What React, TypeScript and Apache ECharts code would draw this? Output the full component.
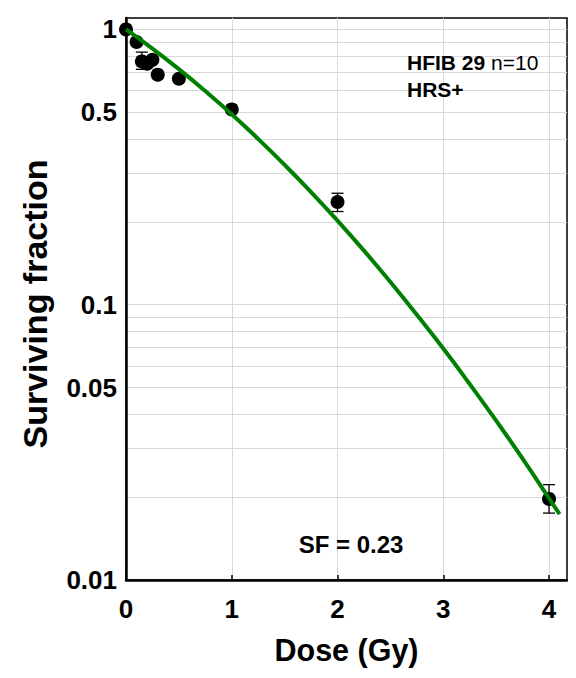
import React, { useEffect, useRef } from "react";
import * as echarts from "echarts";

// Measured points (dose in Gy, surviving fraction)
const doses = [0, 0.1, 0.15, 0.2, 0.25, 0.3, 0.5, 1, 2, 4];
const survival = [1.0, 0.9, 0.765, 0.75, 0.775, 0.685, 0.662, 0.512, 0.236, 0.0197];

// Error bars
const errDoses = [0.15, 2, 4];
const errLow = [0.716, 0.218, 0.0175];
const errHigh = [0.827, 0.254, 0.0222];

// Fitted curve
const fitDoses = [0, 0.25, 0.5, 0.75, 1, 1.25, 1.5, 1.75, 2, 2.25, 2.5, 2.75, 3, 3.25, 3.5, 3.75, 4, 4.1];
const fitSF = [1.0, 0.852, 0.717, 0.597, 0.492, 0.4, 0.322, 0.2565, 0.2019, 0.1572, 0.1209, 0.092, 0.0693, 0.0515, 0.0379, 0.0276, 0.0198, 0.01734];

// Axes
const xTicks = [0, 1, 2, 3, 4];
const yTickLabels = [0.01, 0.05, 0.1, 0.5, 1];
const yGridValues = [
  0.01, 0.02, 0.03, 0.04, 0.05, 0.06, 0.07, 0.08, 0.09,
  0.1, 0.2, 0.3, 0.4, 0.5, 0.6, 0.7, 0.8, 0.9, 1,
];

const FONT = "'Liberation Sans', Arial, Helvetica, sans-serif";

export default function App() {
  const ref = useRef<HTMLDivElement>(null);

  useEffect(() => {
    if (!ref.current) return;
    const chart = echarts.init(ref.current, undefined, { renderer: "svg" });

    const option: any = {
      animation: false,
      backgroundColor: "#ffffff",
      grid: {
        left: 126,
        top: 18,
        right: 9,
        bottom: 98,
        show: true,
        borderColor: "#000",
        borderWidth: 1.5,
        containLabel: false,
      },
      xAxis: {
        type: "value",
        min: 0,
        max: 4.17,
        name: "Dose (Gy)",
        nameLocation: "middle",
        nameGap: 54,
        nameTextStyle: { fontFamily: FONT, fontWeight: "bold", fontSize: 30.5, color: "#000" },
        axisLine: { show: true, lineStyle: { color: "#000", width: 2.5 } },
        axisTick: { show: true, inside: true, length: 5, customValues: xTicks, lineStyle: { color: "#000", width: 1.5 } },
        axisLabel: {
          customValues: xTicks,
          margin: 16,
          fontFamily: FONT,
          fontWeight: "bold",
          fontSize: 26,
          color: "#000",
        },
        splitLine: { show: true, lineStyle: { color: "#d9d9d9", width: 1 } },
      },
      yAxis: {
        type: "log",
        logBase: 10,
        min: 0.01,
        max: 1.1,
        name: "Surviving fraction",
        nameLocation: "middle",
        nameGap: 74,
        nameTextStyle: {
          fontFamily: FONT,
          fontWeight: "bold",
          fontSize: 34,
          color: "#000",
          padding: [0, 10, 0, 0],
        },
        axisLine: { show: true, lineStyle: { color: "#000", width: 2.5 } },
        axisTick: { show: false, customValues: yGridValues },
        axisLabel: {
          customValues: yTickLabels,
          margin: 9,
          fontFamily: FONT,
          fontWeight: "bold",
          fontSize: 26,
          color: "#000",
          formatter: (v: number) => String(v),
        },
        splitLine: { show: true, lineStyle: { color: "#d9d9d9", width: 1 } },
      },
      series: [
        {
          type: "custom",
          name: "error",
          z: 2,
          data: errDoses.map((d, i) => [d, errLow[i], errHigh[i]]),
          encode: { x: 0, y: [1, 2] },
          renderItem: (params: any, api: any) => {
            const x = api.value(0);
            const lo = api.coord([x, api.value(1)]);
            const hi = api.coord([x, api.value(2)]);
            const w = 6;
            const style = { stroke: "#000", lineWidth: 1.3 };
            return {
              type: "group",
              children: [
                { type: "line", shape: { x1: lo[0], y1: lo[1], x2: hi[0], y2: hi[1] }, style },
                { type: "line", shape: { x1: hi[0] - w, y1: hi[1], x2: hi[0] + w, y2: hi[1] }, style },
                { type: "line", shape: { x1: lo[0] - w, y1: lo[1], x2: lo[0] + w, y2: lo[1] }, style },
              ],
            };
          },
        },
        {
          type: "scatter",
          name: "data",
          z: 3,
          symbol: "circle",
          symbolSize: 14,
          itemStyle: { color: "#000", opacity: 1 },
          data: doses.map((d, i) => [d, survival[i]]),
        },
        {
          type: "line",
          name: "fit",
          z: 4,
          smooth: true,
          showSymbol: false,
          symbol: "none",
          lineStyle: { color: "#008000", width: 4 },
          data: fitDoses.map((d, i) => [d, fitSF[i]]),
        },
      ],
      graphic: [
        {
          type: "text",
          x: 407,
          y: 62,
          z: 10,
          style: {
            text: "{b|HFIB 29 }{n|n=10}",
            verticalAlign: "middle",
            rich: {
              b: { fontFamily: FONT, fontWeight: "bold", fontSize: 21, fill: "#000" },
              n: { fontFamily: FONT, fontWeight: "normal", fontSize: 21, fill: "#000" },
            },
          },
        },
        {
          type: "text",
          x: 407,
          y: 89,
          z: 10,
          style: {
            text: "HRS+",
            verticalAlign: "middle",
            fontFamily: FONT,
            fontWeight: "bold",
            fontSize: 21,
            fill: "#000",
          },
        },
        {
          type: "text",
          x: 351,
          y: 544,
          z: 10,
          style: {
            text: "SF = 0.23",
            align: "center",
            verticalAlign: "middle",
            fontFamily: FONT,
            fontWeight: "bold",
            fontSize: 24,
            fill: "#000",
          },
        },
      ],
    };

    chart.setOption(option);
    return () => chart.dispose();
  }, []);

  return <div ref={ref} style={{ width: 576, height: 678, margin: -8 }} />;
}
